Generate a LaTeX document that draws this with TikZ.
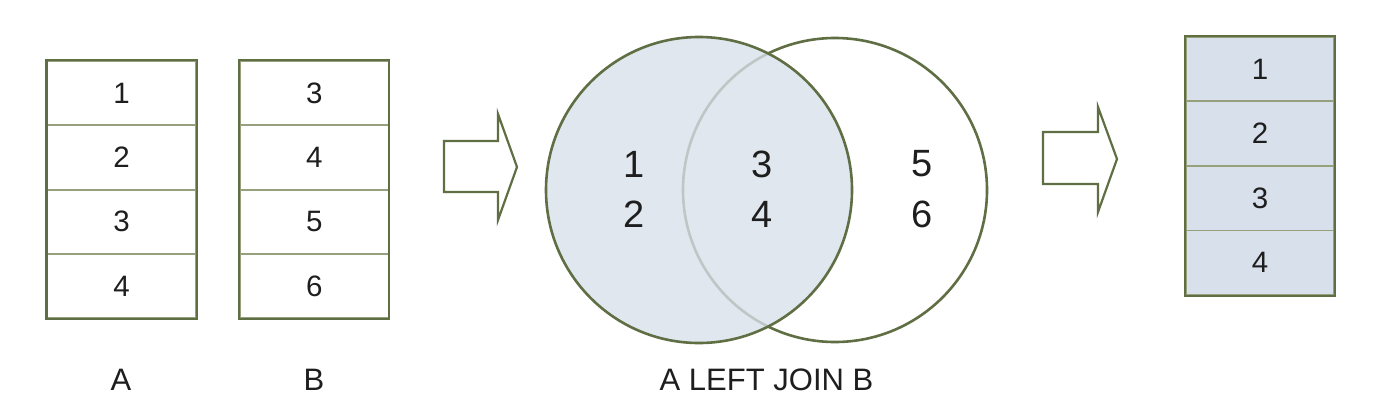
\documentclass[tikz,border=0pt]{standalone}
\usepackage{fontspec}
\setmainfont{Liberation Sans}
\definecolor{olivebd}{RGB}{96,110,68}
\definecolor{rowline}{RGB}{150,160,125}
\definecolor{venfill}{RGB}{216,225,235}
\definecolor{txt}{RGB}{30,30,30}
\tikzset{
  tcell/.style={draw=rowline, line width=1.8pt, minimum width=148.4pt, minimum height=64.3pt,
    inner sep=0pt, text=txt, font=\fontsize{29.5}{29.5}\selectfont},
  rcell/.style={tcell, fill=venfill, minimum height=64.6pt},
  outer/.style={draw=olivebd, line width=2.2pt},
  vdigit/.style={inner sep=0pt, text=txt, font=\fontsize{38}{38}\selectfont},
  caption/.style={inner sep=0pt, text=txt, font=\fontsize{31}{31}\selectfont},
  blockarrow/.style={draw=olivebd, line width=2.2pt, fill=white, line join=miter},
  venn/.style={draw=olivebd, line width=2.6pt}
}
\begin{document}
\begin{tikzpicture}[x=1pt,y=-1pt]
\useasboundingbox (0,0) rectangle (1392,418);
\fill[white] (0,0) rectangle (1392,418);

% table A
\node[tcell] (a1) at (121.5,93.15) {1};
\node[tcell] (a2) at (121.5,157.45) {2};
\node[tcell] (a3) at (121.5,221.75) {3};
\node[tcell] (a4) at (121.5,286.05) {4};
\draw[outer] (a1.north west) rectangle (a4.south east);
\node[caption] (la) at (121,380) {A};

% table B
\node[tcell] (b1) at (314.2,93.15) {3};
\node[tcell] (b2) at (314.2,157.45) {4};
\node[tcell] (b3) at (314.2,221.75) {5};
\node[tcell] (b4) at (314.2,286.05) {6};
\draw[outer] (b1.north west) rectangle (b4.south east);
\node[caption] (lb) at (314,380) {B};

% arrow 1
\draw[blockarrow] (444,141) -- (498,141) -- (498,114) -- (517,167) -- (498,220) -- (498,192) -- (444,192) -- cycle;

% venn
\draw[venn, fill=white] (835,190) circle[radius=152];
\fill[venfill, fill opacity=0.78] (699,190) circle[radius=153];
\draw[venn] (699,190) circle[radius=153];
\node[vdigit] (v1) at (634,164) {1};
\node[vdigit] (v2) at (634,214) {2};
\node[vdigit] (v3) at (762,164) {3};
\node[vdigit] (v4) at (762,214) {4};
\node[vdigit] (v5) at (922,164) {5};
\node[vdigit] (v6) at (922,214) {6};
\node[caption] (lj) at (766.5,380) {A LEFT JOIN B};

% arrow 2
\draw[blockarrow] (1043,132) -- (1098,132) -- (1098,107) -- (1117,159) -- (1098,212) -- (1098,184) -- (1043,184) -- cycle;

% result table
\node[rcell] (r1) at (1260,69) {1};
\node[rcell] (r2) at (1260,133.6) {2};
\node[rcell] (r3) at (1260,198.2) {3};
\node[rcell] (r4) at (1260,262.8) {4};
\draw[outer] (r1.north west) rectangle (r4.south east);
\end{tikzpicture}
\end{document}
